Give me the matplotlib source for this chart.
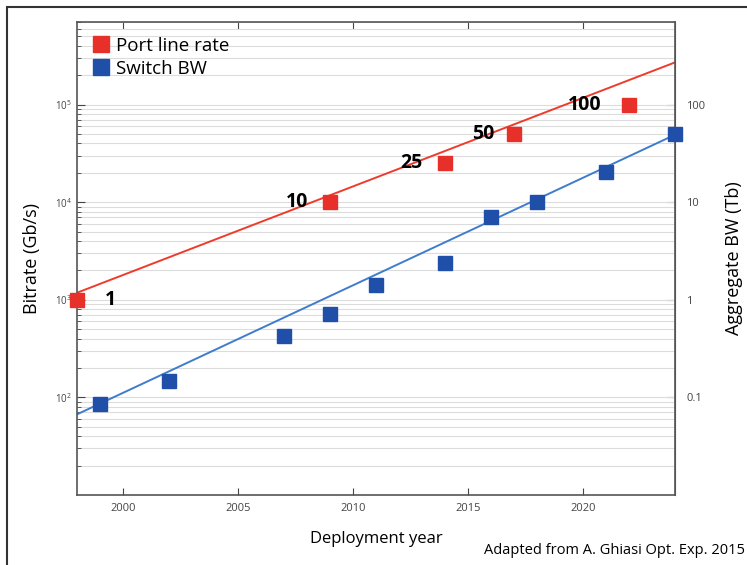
import matplotlib.pyplot as plt
from matplotlib.patches import Rectangle
from matplotlib.ticker import LogLocator, FixedLocator, NullFormatter

# Port line rate (Gb/s) per deployment year
port_years = [1998, 2009, 2014, 2017, 2022]
port_rate = [1000, 10000, 25000, 50000, 100000]
port_labels = ['1', '10', '25', '50', '100']

# Switch bandwidth (Gb/s)
switch_years = [1999, 2002, 2007, 2009, 2011, 2014, 2016, 2018, 2021, 2024]
switch_bw = [85, 146, 430, 720, 1400, 2400, 7000, 10000, 20300, 50000]

# trend lines (end points)
trend_years = [1998, 2024]
port_trend = [1180, 270000]
switch_trend = [67, 49000]

red = '#e8302a'
blue = '#1f4fa8'
plt.rcParams['font.family'] = ['Open Sans', 'DejaVu Sans']

fig = plt.figure(figsize=(7.47, 5.65), dpi=100)
ax = fig.add_axes([77/747, 1 - 495/565, (675-77)/747, (495-22)/565])

# outer frame
fig.patches.append(Rectangle((7/747, -0.1), 1.2, 1.1 - 7/565, transform=fig.transFigure,
                             fill=False, edgecolor='#333333', linewidth=1.5))

ax.plot(trend_years, port_trend, color='#ef3b2c', linewidth=1.4, zorder=2)
ax.plot(trend_years, switch_trend, color='#3f7ccc', linewidth=1.4, zorder=2)
ax.plot(port_years, port_rate, 's', color=red, markersize=10, label='Port line rate',
        clip_on=False, zorder=3)
ax.plot(switch_years, switch_bw, 's', color=blue, markersize=10, label='Switch BW',
        clip_on=False, zorder=3)

# labels next to port points
offsets = [(24, 0), (-24, 0), (-24, 0), (-22, 0), (-32, 0)]
for x, y, t, (dx, dy) in zip(port_years, port_rate, port_labels, offsets):
    ax.annotate(t, (x, y), xytext=(dx, dy), textcoords='offset points',
                ha='center', va='center', fontsize=14, fontweight='bold', color='black')

ax.set_yscale('log')
ax.set_xlim(1998, 2024)
ax.set_ylim(10, 7e5)

ax.set_xticks([2000, 2005, 2010, 2015, 2020])
ax.tick_params(axis='x', direction='in', top=True, labelsize=8, colors='#444444', length=5, pad=6)
ax.tick_params(axis='y', which='both', direction='in', labelsize=7, colors='#444444')
ax.tick_params(axis='y', which='major', length=6)
ax.tick_params(axis='y', which='minor', length=3)
ax.yaxis.set_major_locator(FixedLocator([1e2, 1e3, 1e4, 1e5]))
ax.yaxis.set_minor_locator(LogLocator(base=10, subs=range(2, 10)))
ax.yaxis.set_minor_formatter(NullFormatter())

ax.grid(True, axis='y', which='both', color='#dcdcdc', linewidth=0.8)
ax.set_axisbelow(True)
for s in ax.spines.values():
    s.set_color('#555555')
    s.set_linewidth(1.2)

ax.set_ylabel('Bitrate (Gb/s)', fontsize=13, labelpad=10)
ax.set_xlabel('Deployment year', fontsize=12, labelpad=12)

# right axis in Tb
ax2 = ax.secondary_yaxis('right', functions=(lambda v: v / 1000, lambda v: v * 1000))
ax2.yaxis.set_major_locator(FixedLocator([0.1, 1, 10, 100]))
ax2.yaxis.set_minor_locator(LogLocator(base=10, subs=range(2, 10)))
ax2.yaxis.set_minor_formatter(NullFormatter())
ax2.set_yticklabels(['0.1', '1', '10', '100'])
ax2.tick_params(which='both', direction='in', labelsize=8, colors='#444444', pad=8)
ax2.tick_params(which='major', length=6)
ax2.tick_params(which='minor', length=3)
ax2.spines['right'].set_color('#555555')
ax2.set_ylabel('Aggregate BW (Tb)', fontsize=13, labelpad=14)

ax.legend(loc='upper left', frameon=False, fontsize=13.5, handletextpad=0.3,
          handlelength=1.0, borderaxespad=0.4, labelspacing=0.25, markerscale=1.1)

fig.text(745/747, 1 - 550/565, 'Adapted from A. Ghiasi Opt. Exp. 2015', ha='right',
         va='center', fontsize=10.5)

fig.savefig('out.png', dpi=100)
